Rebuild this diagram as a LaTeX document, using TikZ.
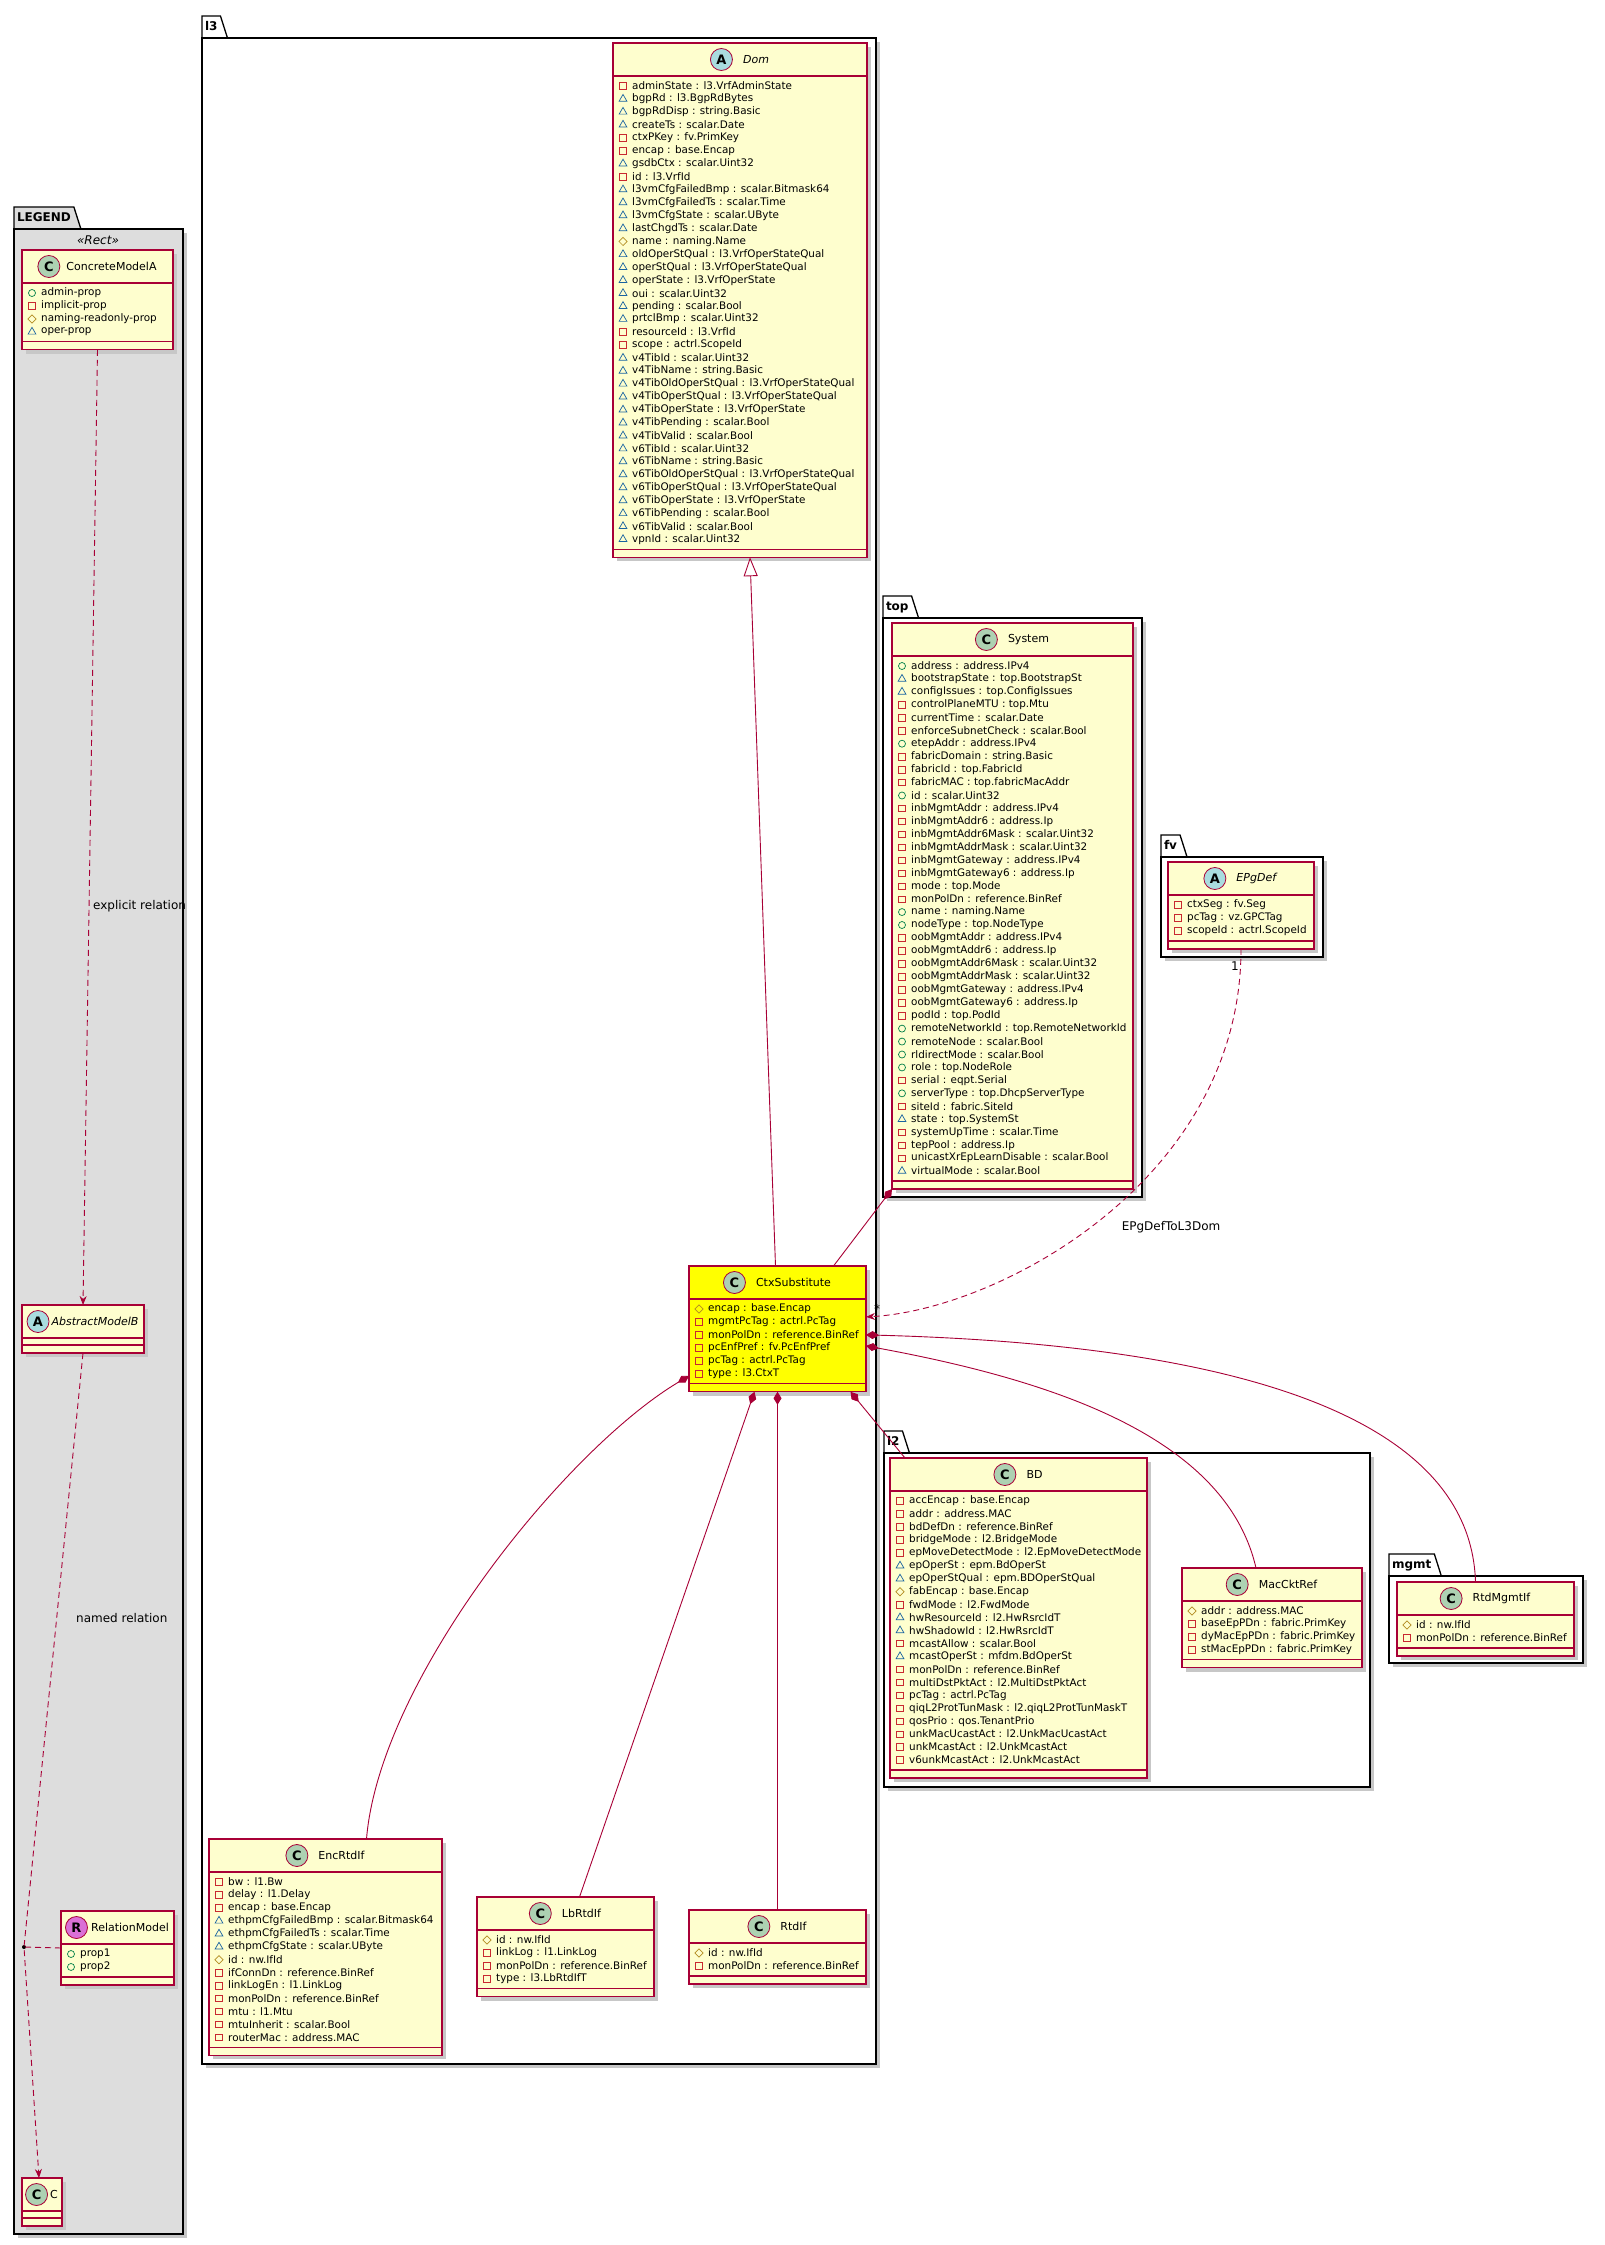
\documentclass[tikz,border=0pt]{standalone}
\usepackage{fontspec}
\setmainfont{DejaVu Sans}
\usetikzlibrary{positioning,arrows.meta,shapes.geometric}
\tikzset{>={Stealth[length=9pt,width=7pt]}}

\definecolor{umlred}{HTML}{A80036}
\definecolor{umlfill}{HTML}{FEFECE}
\definecolor{legendgray}{HTML}{DDDDDD}
\definecolor{ctxyellow}{HTML}{FFFF00}
\definecolor{iconC}{HTML}{ADD1B2}
\definecolor{iconA}{HTML}{A9DCDF}
\definecolor{iconR}{HTML}{DA70D6}
\definecolor{pubc}{HTML}{038048}
\definecolor{pric}{HTML}{C82930}
\definecolor{proc}{HTML}{B38D22}
\definecolor{pkgc}{HTML}{1963A0}

\newcommand{\attrfont}{\fontsize{10.4}{12}\selectfont}
\newcommand{\titlefont}{\fontsize{11}{13}\selectfont}
\newcommand{\labelfont}{\fontsize{12}{14}\selectfont}
\def\hgap{10}

% class box: id, left, top, right, rows, fill, icon letter, title, attributes
\newcommand{\umlclass}[9]{%
  \pgfmathsetmacro{\ubot}{#3+61+(#5-1)*12.95}%
  \pgfmathsetmacro{\uwd}{#4-#2}%
  \pgfmathsetmacro{\uht}{\ubot-#3}%
  \pgfmathsetmacro{\umid}{(#2+#4)/2+(22+\hgap)/2}%
  \fill[shadow] (#2+4,#3+4) rectangle (#4+4,\ubot+4);
  \node[cls, fill=#6, minimum width=\uwd pt, minimum height=\uht pt, anchor=north west] (#1) at (#2,#3) {};
  \node[ttl] (#1-t) at (\umid,#3+16.5) {#8};
  \node[icon, fill=icon#7, left=\hgap pt of #1-t] (#1-i) {#7};
  \draw[cls] (#2,#3+33) -- (#4,#3+33);
  \draw[cls] (#2,\ubot-8) -- (#4,\ubot-8);
  \ifnum#5>0
    \foreach \s/\t [count=\i from 0] in {#9} {
      \node[\s] at (#2+10,#3+43+\i*12.95) {};
      \node[attr] at (#2+19,#3+43+\i*12.95) {\t};
    }
  \fi
}

% package frame: id, left, frame top, right, bottom, label, fill
\newcommand{\umlpkg}[7]{%
  \pgfmathsetmacro{\uwd}{#4-#2}%
  \pgfmathsetmacro{\uht}{#5-#3}%
  \fill[shadow] (#2+4,#3+4) rectangle (#4+4,#5+4);
  \node[tab, fill=#7, anchor=south west] (#1-tab) at (#2,#3) {#6};
  \fill[#7] (#1-tab.north east) -- ([xshift=7pt]#1-tab.south east) -- (#1-tab.south east) -- cycle;
  \draw[pkgline] (#1-tab.south west) |- (#1-tab.north east) -- ([xshift=7pt]#1-tab.south east);
  \node[pkgline, fill=#7, inner sep=0pt, outer sep=0pt, minimum width=\uwd pt, minimum height=\uht pt, anchor=north west] (#1) at (#2,#3) {};
}

\begin{document}
\begin{tikzpicture}[x=1pt, y=-1pt,
	shadow/.style = {fill=black!22},
	cls/.style = {draw=umlred, line width=1.2pt, inner sep=0pt, outer sep=0pt},
	ttl/.style = {font=\titlefont, inner sep=0pt},
	icon/.style = {circle, draw=umlred, line width=0.8pt, minimum size=22pt, inner sep=0pt,
		font=\bfseries\fontsize{13}{13}\selectfont},
	attr/.style = {anchor=west, inner sep=0pt, font=\attrfont},
	vo/.style = {circle, draw=pubc, line width=0.7pt, minimum size=7pt, inner sep=0pt},
	vs/.style = {rectangle, draw=pric, line width=0.7pt, minimum size=6.5pt, inner sep=0pt},
	vd/.style = {diamond, draw=proc, line width=0.7pt, minimum size=8.5pt, inner sep=0pt},
	vt/.style = {regular polygon, regular polygon sides=3, draw=pkgc, line width=0.7pt,
		minimum size=9pt, inner sep=0pt},
	tab/.style = {font=\bfseries\labelfont, inner xsep=3pt, inner ysep=0pt, outer sep=0pt,
		minimum height=22pt, text height=9pt, text depth=2.5pt},
	pkgline/.style = {draw=black, line width=1.3pt},
	lbl/.style = {font=\labelfont, inner sep=0pt},
	stereo/.style = {font=\itshape\labelfont, inner sep=0pt},
	rel/.style = {draw=umlred, line width=0.9pt},
	gen/.style = {rel, arrows={Triangle[length=19pt,width=14pt,fill=white]-}},
	comp/.style = {rel, arrows={Diamond[length=13pt,width=8pt]-}},
	dep/.style = {rel, dash pattern=on 6pt off 4pt, ->},
	dot/.style = {circle, fill=black, inner sep=0pt, minimum size=4pt},
	]
	\useasboundingbox (0,0) rectangle (1604,2245);

	% packages
	\umlpkg{legend}{14}{229}{183}{2234}{LEGEND}{legendgray}
	\umlpkg{l3}{202}{38}{876}{2064}{l3}{white}
	\umlpkg{top}{883}{618}{1142}{1197}{top}{white}
	\umlpkg{fv}{1161}{857}{1323}{957}{fv}{white}
	\umlpkg{l2}{884}{1453}{1370}{1787}{l2}{white}
	\umlpkg{mgmt}{1389}{1576}{1583}{1663}{mgmt}{white}
	\node[stereo] (legend-st) at (98,240) {«Rect»};

	% legend classes
	\def\hgap{6}
	\umlclass{cma}{22}{250}{173}{4}{umlfill}{C}{ConcreteModelA}{vo/admin-prop, vs/implicit-prop,
		vd/naming-readonly-prop, vt/oper-prop}
	\def\hgap{2}
	\umlclass{amb}{22}{1305}{144}{0}{umlfill}{A}{\textit{AbstractModelB}}{}
	\umlclass{cc}{22}{2178}{62}{0}{umlfill}{C}{C}{}
	\def\hgap{3}
	\umlclass{rel}{61}{1911}{174}{2}{umlfill}{R}{RelationModel}{vo/prop1, vo/prop2}
	\def\hgap{10}

	% l3
	\umlclass{dom}{613}{43}{867}{36}{umlfill}{A}{\textit{Dom}}{
		vs/adminState : l3.VrfAdminState, vt/bgpRd : l3.BgpRdBytes,
		vt/bgpRdDisp : string.Basic, vt/createTs : scalar.Date,
		vs/ctxPKey : fv.PrimKey, vs/encap : base.Encap,
		vt/gsdbCtx : scalar.Uint32, vs/id : l3.VrfId,
		vt/l3vmCfgFailedBmp : scalar.Bitmask64, vt/l3vmCfgFailedTs : scalar.Time,
		vt/l3vmCfgState : scalar.UByte, vt/lastChgdTs : scalar.Date,
		vd/name : naming.Name, vt/oldOperStQual : l3.VrfOperStateQual,
		vt/operStQual : l3.VrfOperStateQual, vt/operState : l3.VrfOperState,
		vt/oui : scalar.Uint32, vt/pending : scalar.Bool,
		vt/prtclBmp : scalar.Uint32, vs/resourceId : l3.VrfId,
		vs/scope : actrl.ScopeId, vt/v4TibId : scalar.Uint32,
		vt/v4TibName : string.Basic, vt/v4TibOldOperStQual : l3.VrfOperStateQual,
		vt/v4TibOperStQual : l3.VrfOperStateQual, vt/v4TibOperState : l3.VrfOperState,
		vt/v4TibPending : scalar.Bool, vt/v4TibValid : scalar.Bool,
		vt/v6TibId : scalar.Uint32, vt/v6TibName : string.Basic,
		vt/v6TibOldOperStQual : l3.VrfOperStateQual, vt/v6TibOperStQual : l3.VrfOperStateQual,
		vt/v6TibOperState : l3.VrfOperState, vt/v6TibPending : scalar.Bool,
		vt/v6TibValid : scalar.Bool, vt/vpnId : scalar.Uint32}
	\umlclass{ctx}{689}{1266}{866}{6}{ctxyellow}{C}{CtxSubstitute}{
		vd/encap : base.Encap, vs/mgmtPcTag : actrl.PcTag,
		vs/monPolDn : reference.BinRef, vs/pcEnfPref : fv.PcEnfPref,
		vs/pcTag : actrl.PcTag, vs/type : l3.CtxT}
	\umlclass{enc}{209}{1839}{442}{13}{umlfill}{C}{EncRtdIf}{
		vs/bw : l1.Bw, vs/delay : l1.Delay, vs/encap : base.Encap,
		vt/ethpmCfgFailedBmp : scalar.Bitmask64, vt/ethpmCfgFailedTs : scalar.Time,
		vt/ethpmCfgState : scalar.UByte, vd/id : nw.IfId,
		vs/ifConnDn : reference.BinRef, vs/linkLogEn : l1.LinkLog,
		vs/monPolDn : reference.BinRef, vs/mtu : l1.Mtu,
		vs/mtuInherit : scalar.Bool, vs/routerMac : address.MAC}
	\umlclass{lb}{477}{1897}{654}{4}{umlfill}{C}{LbRtdIf}{
		vd/id : nw.IfId, vs/linkLog : l1.LinkLog,
		vs/monPolDn : reference.BinRef, vs/type : l3.LbRtdIfT}
	\umlclass{rtd}{689}{1910}{866}{2}{umlfill}{C}{RtdIf}{
		vd/id : nw.IfId, vs/monPolDn : reference.BinRef}

	% top
	\umlclass{sys}{892}{623}{1133}{40}{umlfill}{C}{System}{
		vo/address : address.IPv4, vt/bootstrapState : top.BootstrapSt,
		vt/configIssues : top.ConfigIssues, vs/controlPlaneMTU : top.Mtu,
		vs/currentTime : scalar.Date, vs/enforceSubnetCheck : scalar.Bool,
		vo/etepAddr : address.IPv4, vs/fabricDomain : string.Basic,
		vs/fabricId : top.FabricId, vs/fabricMAC : top.fabricMacAddr,
		vo/id : scalar.Uint32, vs/inbMgmtAddr : address.IPv4,
		vs/inbMgmtAddr6 : address.Ip, vs/inbMgmtAddr6Mask : scalar.Uint32,
		vs/inbMgmtAddrMask : scalar.Uint32, vs/inbMgmtGateway : address.IPv4,
		vs/inbMgmtGateway6 : address.Ip, vs/mode : top.Mode,
		vs/monPolDn : reference.BinRef, vo/name : naming.Name,
		vo/nodeType : top.NodeType, vs/oobMgmtAddr : address.IPv4,
		vs/oobMgmtAddr6 : address.Ip, vs/oobMgmtAddr6Mask : scalar.Uint32,
		vs/oobMgmtAddrMask : scalar.Uint32, vs/oobMgmtGateway : address.IPv4,
		vs/oobMgmtGateway6 : address.Ip, vs/podId : top.PodId,
		vo/remoteNetworkId : top.RemoteNetworkId, vo/remoteNode : scalar.Bool,
		vo/rldirectMode : scalar.Bool, vo/role : top.NodeRole,
		vs/serial : eqpt.Serial, vo/serverType : top.DhcpServerType,
		vs/siteId : fabric.SiteId, vt/state : top.SystemSt,
		vs/systemUpTime : scalar.Time, vs/tepPool : address.Ip,
		vs/unicastXrEpLearnDisable : scalar.Bool, vt/virtualMode : scalar.Bool}

	% fv
	\umlclass{epg}{1168}{862}{1314}{3}{umlfill}{A}{\textit{EPgDef}}{
		vs/ctxSeg : fv.Seg, vs/pcTag : vz.GPCTag, vs/scopeId : actrl.ScopeId}

	% l2
	\umlclass{bd}{890}{1458}{1147}{21}{umlfill}{C}{BD}{
		vs/accEncap : base.Encap, vs/addr : address.MAC,
		vs/bdDefDn : reference.BinRef, vs/bridgeMode : l2.BridgeMode,
		vs/epMoveDetectMode : l2.EpMoveDetectMode, vt/epOperSt : epm.BdOperSt,
		vt/epOperStQual : epm.BDOperStQual, vd/fabEncap : base.Encap,
		vs/fwdMode : l2.FwdMode, vt/hwResourceId : l2.HwRsrcIdT,
		vt/hwShadowId : l2.HwRsrcIdT, vs/mcastAllow : scalar.Bool,
		vt/mcastOperSt : mfdm.BdOperSt, vs/monPolDn : reference.BinRef,
		vs/multiDstPktAct : l2.MultiDstPktAct, vs/pcTag : actrl.PcTag,
		vs/qiqL2ProtTunMask : l2.qiqL2ProtTunMaskT, vs/qosPrio : qos.TenantPrio,
		vs/unkMacUcastAct : l2.UnkMacUcastAct, vs/unkMcastAct : l2.UnkMcastAct,
		vs/v6unkMcastAct : l2.UnkMcastAct}
	\umlclass{mac}{1182}{1568}{1362}{4}{umlfill}{C}{MacCktRef}{
		vd/addr : address.MAC, vs/baseEpPDn : fabric.PrimKey,
		vs/dyMacEpPDn : fabric.PrimKey, vs/stMacEpPDn : fabric.PrimKey}

	% mgmt
	\umlclass{rtm}{1397}{1582}{1574}{2}{umlfill}{C}{RtdMgmtIf}{
		vd/id : nw.IfId, vs/monPolDn : reference.BinRef}

	% relations
	\draw[gen] ([xshift=10pt]dom.south) -- ([xshift=-2pt]ctx.north);
	\draw[comp] (sys.south west) -- ([xshift=56pt]ctx.north);
	\draw[comp] ([xshift=73pt]ctx.south) -- ([xshift=15pt]bd.north west);
	\draw[comp] ([yshift=-17pt]ctx.east) .. controls +(190,35) and +(-30,-130) .. ([xshift=-16pt]mac.north);
	\draw[comp] ([yshift=-6pt]ctx.east) .. controls +(380,10) and +(-5,-162) .. ([xshift=-10pt]rtm.north);
	\draw[comp] ([yshift=-47pt]ctx.west) .. controls +(-124,74) and +(13,-159) .. ([xshift=41pt]enc.north);
	\draw[comp] ([xshift=-23pt]ctx.south) -- ([xshift=14pt]lb.north);
	\draw[comp] (ctx.south) -- (rtd.north);
	\draw[dep] (epg.south) .. controls +(0,231) and +(133,-7) .. ([yshift=12pt]ctx.east);
	\node[lbl] (epg-lbl) at (1171,1227) {EPgDefToL3Dom};
	\node[lbl] (epg-one) at (1235,966) {1};
	\node[lbl] (epg-many) at (877,1309) {*};

	% legend relations
	\draw[dep] (cma.south) -- (amb.north);
	\node[lbl, anchor=west] (expl) at (93,906) {explicit relation};
	\node[dot] (rdot) at (24,1947) {};
	\draw[dep] (amb.south) -- (rdot.center) -- ([xshift=-3pt]cc.north);
	\draw[dep, -] (rel.west) -- (rdot.center);
	\node[lbl, anchor=west] (named) at (76,1618) {named relation};

\end{tikzpicture}
\end{document}
